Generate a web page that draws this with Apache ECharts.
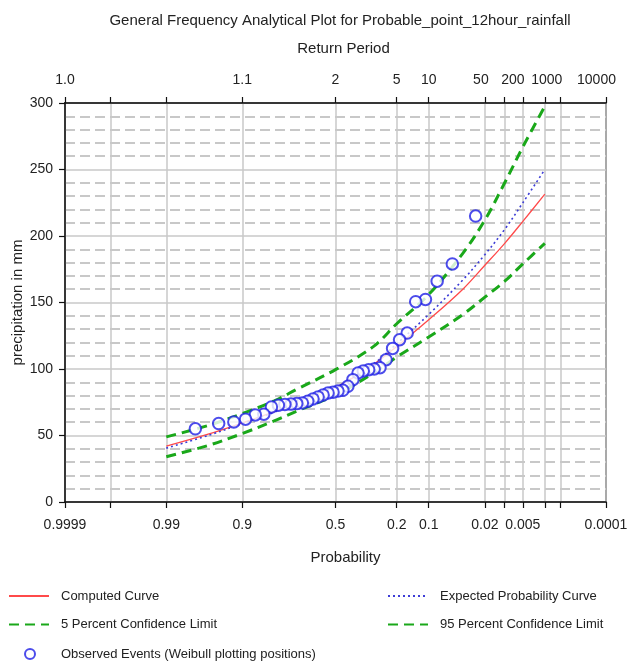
<!DOCTYPE html>
<html><head><meta charset="utf-8">
<script src="https://cdn.jsdelivr.net/npm/echarts@6/dist/echarts.min.js"></script>
<style>html,body{margin:0;padding:0;background:#fff}#c{width:631px;height:662px}</style>
</head><body><div id="c"></div>
<script>
// ---- data (exceedance probabilities and precipitation in mm) ----
const curveProb = [0.99, 0.96, 0.9, 0.8, 0.7, 0.5, 0.3, 0.2, 0.1, 0.04, 0.02, 0.01, 0.005, 0.002];
const computedCurve = [42, 51, 59.5, 68, 75, 86, 103.5, 117, 137, 160, 178, 194.5, 211, 231.5];
const expectedCurve = [40.5, 50, 59, 67.5, 75, 86, 104, 119, 141, 167, 186, 205, 225, 250];
const conf5Upper = [49, 57.5, 66.5, 76, 85, 99.5, 117, 134, 156, 187, 212, 240, 267, 297.5];
const conf95Lower = [34, 42.5, 51.5, 61, 68.5, 80.5, 97, 109, 124, 141, 154, 166, 179, 194.5];

const obsProb = [0.0270, 0.0541, 0.0811, 0.1081, 0.1351, 0.1622, 0.1892, 0.2162, 0.2432, 0.2703,
  0.2973, 0.3243, 0.3514, 0.3784, 0.4054, 0.4324, 0.4595, 0.4865, 0.5135, 0.5405,
  0.5676, 0.5946, 0.6216, 0.6486, 0.6757, 0.7027, 0.7297, 0.7568, 0.7838, 0.8108,
  0.8378, 0.8649, 0.8919, 0.9189, 0.9459, 0.9730];
const obsValues = [215, 179, 166, 152.3, 150.6, 127, 122, 115.5, 107, 101,
  100, 99.5, 98.5, 97, 92, 87, 84, 83.4, 82.6, 82,
  80.5, 79, 77.5, 75.8, 74.5, 74, 73.6, 73.4, 72.8, 71.5,
  66, 65.5, 62.3, 60.2, 59, 55];

const tickProbs = [0.9999, 0.999, 0.99, 0.9, 0.5, 0.2, 0.1, 0.02, 0.01, 0.005, 0.002, 0.001, 0.0001];
const probLabelValues = [0.9999, 0.99, 0.9, 0.5, 0.2, 0.1, 0.02, 0.005, 0.0001];
const probLabelTexts = ['0.9999', '0.99', '0.9', '0.5', '0.2', '0.1', '0.02', '0.005', '0.0001'];
const returnLabelProbs = [0.9999, 0.9, 0.5, 0.2, 0.1, 0.02, 0.005, 0.001, 0.0001];
const returnLabelTexts = ['1.0', '1.1', '2', '5', '10', '50', '200', '1000', '10000'];

// ---- normal-probability scale transform ----
function normInv(p) {
  const a = [-3.969683028665376e+01, 2.209460984245205e+02, -2.759285104469687e+02, 1.383577518672690e+02, -3.066479806614716e+01, 2.506628277459239e+00];
  const b = [-5.447609879822406e+01, 1.615858368580409e+02, -1.556989798598866e+02, 6.680131188771972e+01, -1.328068155288572e+01];
  const c = [-7.784894002430293e-03, -3.223964580411365e-01, -2.400758277161838e+00, -2.549732539343734e+00, 4.374664141464968e+00, 2.938163982698783e+00];
  const d = [7.784695709041462e-03, 3.224671290700398e-01, 2.445134137142996e+00, 3.754408661907416e+00];
  const pl = 0.02425, ph = 1 - pl;
  let q, r;
  if (p < pl) { q = Math.sqrt(-2 * Math.log(p)); return (((((c[0]*q+c[1])*q+c[2])*q+c[3])*q+c[4])*q+c[5]) / ((((d[0]*q+d[1])*q+d[2])*q+d[3])*q+1); }
  if (p <= ph) { q = p - 0.5; r = q*q; return (((((a[0]*r+a[1])*r+a[2])*r+a[3])*r+a[4])*r+a[5])*q / (((((b[0]*r+b[1])*r+b[2])*r+b[3])*r+b[4])*r+1); }
  q = Math.sqrt(-2 * Math.log(1 - p)); return -(((((c[0]*q+c[1])*q+c[2])*q+c[3])*q+c[4])*q+c[5]) / ((((d[0]*q+d[1])*q+d[2])*q+d[3])*q+1);
}
const zOf = p => -normInv(p);   // exceedance probability -> axis coordinate
const xMin = zOf(0.9999), xMax = zOf(0.0001);
function nearestIdx(arr, v) { let bi = 0, bd = 1e9; arr.forEach((z, i) => { const dd = Math.abs(z - v); if (dd < bd) { bd = dd; bi = i; } }); return bi; }
const probLabelZ = probLabelValues.map(zOf);
const returnLabelZ = returnLabelProbs.map(zOf);

const FONT = "'Liberation Sans',Arial,sans-serif";
const TXT = '#222';
const GRID_C = '#c8c8c8';

const pair = (ps, vs) => ps.map((p, i) => [zOf(p), vs[i]]);

const lineSeries = (name, vals, color, type, width, z) => ({
  name, type: 'line', xAxisIndex: 0, yAxisIndex: 0,
  data: pair(curveProb, vals), symbol: 'none', smooth: 0.35,
  lineStyle: { color, type, width }, itemStyle: { color }, z, silent: true
});

// top label shifting (style only)
const topShift = { '50': 8, '200': 20, '1000': 27, '10000': 19 };
const richTop = {};
Object.keys(topShift).forEach(k => { richTop['s' + k] = { fontFamily: FONT, fontSize: 14, color: TXT, padding: [0, topShift[k], 0, 0] }; });
richTop.n = { fontFamily: FONT, fontSize: 14, color: TXT };

const legendText = { fontFamily: FONT, fontSize: 13, color: TXT, lineHeight: 14, padding: [0, 0, 0, 7] };
const hideSym = { opacity: 0 };

const option = {
  animation: false,
  backgroundColor: '#fff',
  title: {
    text: 'General Frequency Analytical Plot for Probable_point_12hour_rainfall',
    left: 335, top: 8, textAlign: 'center',
    textStyle: { fontFamily: FONT, fontSize: 15, fontWeight: 'normal', color: TXT }
  },
  grid: { left: 65, right: 25, top: 103, bottom: 160, outerBoundsMode: 'none', containLabel: false, show: true, borderColor: '#111', borderWidth: 1.5, backgroundColor: 'transparent' },
  legend: [
    {
      left: 8, top: 589, padding: 0, orient: 'vertical', itemWidth: 40, itemHeight: 14, itemGap: 14.5,
      textStyle: legendText,
      data: [{ name: 'Computed Curve', itemStyle: hideSym }, { name: '5 Percent Confidence Limit', itemStyle: hideSym }]
    },
    {
      left: 387, top: 589, padding: 0, orient: 'vertical', itemWidth: 40, itemHeight: 14, itemGap: 14.5,
      textStyle: legendText,
      data: [{ name: 'Expected Probability Curve', itemStyle: hideSym }, { name: '95 Percent Confidence Limit', itemStyle: hideSym }]
    },
    {
      left: 24, top: 647, padding: 0, orient: 'vertical', itemWidth: 10, itemHeight: 10,
      textStyle: Object.assign({}, legendText, { padding: [0, 0, 0, 21] }),
      data: ['Observed Events (Weibull plotting positions)']
    }
  ],
  xAxis: [
    {
      type: 'value', position: 'bottom', min: xMin, max: xMax,
      name: 'Probability', nameLocation: 'middle', nameGap: 48, nameMoveOverlap: false,
      nameTextStyle: { fontFamily: FONT, fontSize: 15, color: TXT, padding: [0, 0, 0, 20] },
      axisLine: { show: true, onZero: false, lineStyle: { color: '#111', width: 1.5 } },
      axisTick: { show: true, length: 6, lineStyle: { color: '#111', width: 1.2 }, customValues: tickProbs.map(zOf) },
      axisLabel: {
        show: true, margin: 16, fontFamily: FONT, fontSize: 14, color: TXT,
        customValues: probLabelZ,
        formatter: v => probLabelTexts[nearestIdx(probLabelZ, v)]
      },
      splitLine: { show: true, lineStyle: { color: GRID_C, width: 1.5 } }
    },
    {
      type: 'value', position: 'top', min: xMin, max: xMax,
      name: 'Return Period', nameLocation: 'middle', nameGap: 47, nameMoveOverlap: false,
      nameTextStyle: { fontFamily: FONT, fontSize: 15, color: TXT, padding: [0, 0, 0, 16] },
      axisLine: { show: true, onZero: false, lineStyle: { color: '#111', width: 1.5 } },
      axisTick: { show: true, length: 6, lineStyle: { color: '#111', width: 1.2 }, customValues: tickProbs.map(zOf) },
      axisLabel: {
        show: true, margin: 16, fontFamily: FONT, fontSize: 14, color: TXT,
        customValues: returnLabelZ,
        formatter: v => { const t = returnLabelTexts[nearestIdx(returnLabelZ, v)]; return topShift[t] ? '{s' + t + '|' + t + '}' : '{n|' + t + '}'; },
        rich: richTop
      },
      splitLine: { show: false }
    }
  ],
  yAxis: {
    type: 'value', min: 0, max: 300, interval: 50,
    name: 'precipitation in mm', nameLocation: 'middle', nameGap: 40, nameRotate: 90, nameMoveOverlap: false,
    nameTextStyle: { fontFamily: FONT, fontSize: 15, color: TXT },
    axisLine: { show: true, onZero: false, lineStyle: { color: '#111', width: 1.5 } },
    axisTick: { show: true, length: 6, lineStyle: { color: '#111', width: 1.2 } },
    axisLabel: { margin: 12, fontFamily: FONT, fontSize: 14, color: TXT },
    splitLine: { show: true, lineStyle: { color: GRID_C, width: 1.5 } },
    minorTick: { show: false, splitNumber: 5 },
    minorSplitLine: { show: true, lineStyle: { color: GRID_C, width: 2, type: [10, 5] } }
  },
  series: [
    lineSeries('Computed Curve', computedCurve, '#ff4a4a', 'solid', 1.3, 3),
    lineSeries('Expected Probability Curve', expectedCurve, '#3d3dd6', [2, 3], 1.6, 4),
    lineSeries('5 Percent Confidence Limit', conf5Upper, '#1aa81a', [10, 6], 3, 2),
    lineSeries('95 Percent Confidence Limit', conf95Lower, '#1aa81a', [10, 6], 3, 2),
    {
      name: 'Observed Events (Weibull plotting positions)', type: 'scatter', xAxisIndex: 0, yAxisIndex: 0,
      data: pair(obsProb, obsValues), symbol: 'emptyCircle', symbolSize: 11.5,
      itemStyle: { color: '#1f1fe6', borderColor: '#1f1fe6', borderWidth: 1.3 }, z: 5, silent: true
    }
  ]
};
const chart = echarts.init(document.getElementById('c'), null, { renderer: 'canvas' });
chart.setOption(option);
</script>
</body></html>
